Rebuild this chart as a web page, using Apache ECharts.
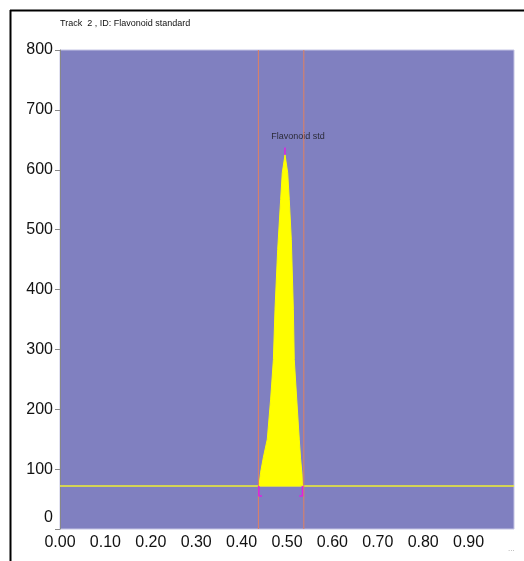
<!DOCTYPE html>
<html><head><meta charset="utf-8">
<script src="https://cdn.jsdelivr.net/npm/echarts@6/dist/echarts.min.js"></script>
<style>html,body{margin:0;padding:0;background:#fff}#c{width:524px;height:561px}</style>
</head><body><div id="c"></div>
<script>
// Data
const titleText = 'Track  2 , ID: Flavonoid standard';
const peakName = 'Flavonoid std';
const peakX = [0.437, 0.439, 0.442, 0.448, 0.4566, 0.464, 0.470, 0.4736, 0.4795, 0.486, 0.4896, 0.4956, 0.5015, 0.505, 0.5095, 0.514, 0.516, 0.5214, 0.527, 0.530, 0.533, 0.534, 0.535];
const peakY = [72, 76, 95, 120, 150, 217, 283, 367, 467, 550, 595, 625, 595, 550, 483, 367, 283, 217, 150, 117, 92, 73, 72];
const baselineY = 72;
const peakStartX = 0.437;
const peakEndX = 0.534;
const peakTopX = 0.4956;
const peakTopY = 625;
const yTicks = [0, 100, 200, 300, 400, 500, 600, 700, 800];
const xTickLabels = ['0.00','0.10','0.20','0.30','0.40','0.50','0.60','0.70','0.80','0.90'];

const narrow = '"Liberation Sans Narrow", "Arial Narrow", "Liberation Sans", Arial, sans-serif';
const sans = '"Liberation Sans", Arial, sans-serif';
const chart = echarts.init(document.getElementById('c'), null, {renderer: 'canvas'});
const peakData = peakX.map((x, i) => [x, peakY[i]]);
const magenta = '#e020e0';
const orange = '#e08060';
const yMin = yTicks[0], yMax = yTicks[yTicks.length - 1];
const option = {
  animation: false,
  backgroundColor: '#fff',
  grid: {left: 60, right: 10, top: 50, bottom: 32, show: true, backgroundColor: '#8080c0', borderColor: '#c4c4e4', borderWidth: 1},
  xAxis: {
    type: 'value', min: 0, max: 1, interval: 0.1,
    axisLine: {show: false}, axisTick: {show: false}, splitLine: {show: false},
    axisLabel: {fontSize: 16, color: '#111', margin: 6, fontFamily: sans,
      formatter: v => { const i = Math.round(v * 10); return i < xTickLabels.length ? xTickLabels[i] : ''; }}
  },
  yAxis: {
    type: 'value', min: yMin, max: yMax, interval: 100,
    axisLine: {show: true, lineStyle: {color: '#888', width: 1}},
    axisTick: {show: true, length: 5, lineStyle: {color: '#888'}},
    splitLine: {show: false},
    axisLabel: {fontSize: 16, color: '#111', margin: 7, fontFamily: sans,
      formatter: v => v === 0 ? '{z|0}' : String(v),
      rich: {z: {fontSize: 16, color: '#111', fontFamily: sans, padding: [0, 0, 22, 0]}}}
  },
  series: [
    {
      type: 'line', data: peakData, symbol: 'none', z: 3,
      lineStyle: {color: '#ffff00', width: 1},
      areaStyle: {color: '#ffff00', opacity: 1, origin: baselineY}
    },
    {
      type: 'line', symbol: 'none', z: 2, lineStyle: {color: '#f0f030', width: 1.5},
      data: [[0, baselineY], [1, baselineY]]
    },
    {
      type: 'line', symbol: 'none', z: 4, lineStyle: {color: orange, width: 1},
      data: [[peakStartX, yMin], [peakStartX, yMax]]
    },
    {
      type: 'line', symbol: 'none', z: 4, lineStyle: {color: orange, width: 1},
      data: [[peakEndX + 0.003, yMin], [peakEndX + 0.003, yMax]]
    },
    {
      type: 'line', symbol: 'none', z: 5, lineStyle: {color: magenta, width: 1.5},
      data: [[peakStartX + 0.001, baselineY], [peakStartX + 0.001, baselineY - 17], [peakStartX + 0.008, baselineY - 17]]
    },
    {
      type: 'line', symbol: 'none', z: 5, lineStyle: {color: magenta, width: 1.5},
      data: [[peakEndX, baselineY], [peakEndX, baselineY - 17], [peakEndX - 0.007, baselineY - 17]]
    },
    {
      type: 'line', symbol: 'none', z: 5, lineStyle: {color: magenta, width: 1.5},
      data: [[peakTopX, peakTopY], [peakTopX, peakTopY + 12]]
    },
    {
      type: 'scatter', symbolSize: 0,
      data: [[peakTopX, peakTopY + 12]],
      label: {show: true, position: 'top', formatter: peakName, offset: [13, -2], fontSize: 9, color: '#111', fontFamily: narrow}
    }
  ],
  graphic: [
    {type: 'line', shape: {x1: 10, y1: 10.5, x2: 524, y2: 10.5}, style: {stroke: '#000', lineWidth: 2}},
    {type: 'line', shape: {x1: 10.5, y1: 10, x2: 10.5, y2: 561}, style: {stroke: '#000', lineWidth: 2}},
    {type: 'text', left: 60, top: 19, style: {text: titleText, fontSize: 9, fill: '#111', fontFamily: narrow}},
    {type: 'text', left: 508, top: 545, style: {text: '...', fontSize: 8, fill: '#999'}}
  ]
};
chart.setOption(option);
</script>
</body></html>
